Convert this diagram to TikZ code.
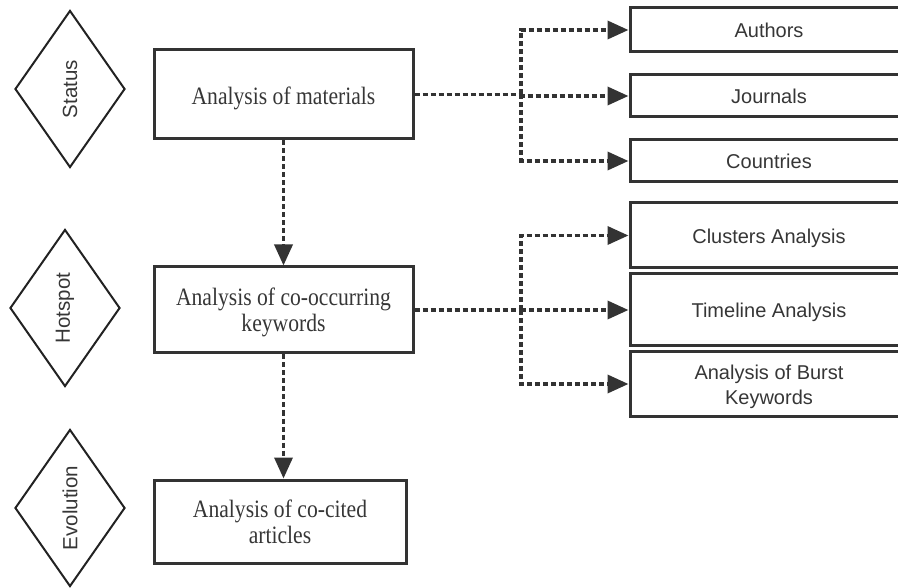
\documentclass[tikz,border=0pt]{standalone}
\usepackage{fontspec}
\setmainfont{Liberation Serif}
\newfontfamily\serifnarrow[FakeStretch=0.865]{Liberation Serif}
\newfontfamily\arialfont{Liberation Sans}
\usetikzlibrary{shapes.geometric,arrows.meta}
\definecolor{linec}{HTML}{333333}
\definecolor{textc}{HTML}{363636}
\definecolor{diac}{HTML}{222222}
\begin{document}
\begin{tikzpicture}[x=1pt,y=-1pt,
  boxbase/.style={draw=linec,line width=3pt,rectangle,inner sep=0pt,align=center,text=textc},
  mainbox/.style={boxbase,font=\serifnarrow\fontsize{25}{26}\selectfont},
  mainone/.style={mainbox,text height=21pt,text depth=0pt},
  maintwo/.style={mainbox,text height=44pt,text depth=0pt},
  subbox/.style={boxbase,minimum width=278pt,font=\arialfont\fontsize{20}{25}\selectfont},
  subone/.style={subbox,text height=16pt,text depth=0pt},
  subtwo/.style={subbox,text height=42pt,text depth=0pt},
  phase/.style={draw=diac,line width=2pt,diamond,inner sep=0pt,minimum width=110pt,
    minimum height=157pt,font=\arialfont\fontsize{20.5}{24}\selectfont,text=textc},
  flowline/.style={draw=linec,line width=3.5pt,dash pattern=on 5pt off 3pt},
  flow/.style={flowline,-{Triangle[length=21pt,width=18pt]}}
  ]
\useasboundingbox (0,0) rectangle (898,588);
\clip (0,0) rectangle (898,588);

% phase diamonds
\node[phase] (status) at (70,89) {\rotatebox{90}{Status}};
\node[phase] (hotspot) at (65,308) {\rotatebox{90}{Hotspot}};
\node[phase] (evolution) at (70,508) {\rotatebox{90}{Evolution}};

% main boxes
\node[mainone,minimum width=259pt,minimum height=89pt] (m1) at (283.5,94.5) {Analysis of materials};
\node[maintwo,minimum width=259pt,minimum height=86pt] (m2) at (283.5,310) {Analysis of co-occurring\\keywords};
\node[maintwo,minimum width=252pt,minimum height=83pt] (m3) at (280,521.5) {Analysis of co-cited\\articles};

% sub boxes
\node[subone,minimum height=44pt] (authors) at (769,30) {Authors};
\node[subone,minimum height=42pt] (journals) at (769,96) {Journals};
\node[subone,minimum height=42pt] (countries) at (769,161) {Countries};
\node[subone,minimum height=65pt] (clusters) at (769,235.5) {Clusters Analysis};
\node[subone,minimum height=72pt] (timeline) at (769,310) {Timeline Analysis};
\node[subtwo,minimum height=64pt] (burst) at (769,384) {Analysis of Burst\\Keywords};

% branches
\coordinate (br1) at (521,94.5);
\coordinate (br2) at (521,310);
\draw[flowline] (m1.east) -- (br1);
\draw[flow] (br1) |- (authors.west);
\draw[flow] (br1) |- (journals.west);
\draw[flow] (br1) |- (countries.west);
\draw[flowline] (m2.east) -- (br2);
\draw[flow] (br2) |- (clusters.west);
\draw[flow] (br2) |- (timeline.west);
\draw[flow] (br2) |- (burst.west);

% vertical flow
\draw[flow] (m1.south) -- (m2.north);
\draw[flow] (m2.south) -- (m2.south |- m3.north);
\end{tikzpicture}
\end{document}
